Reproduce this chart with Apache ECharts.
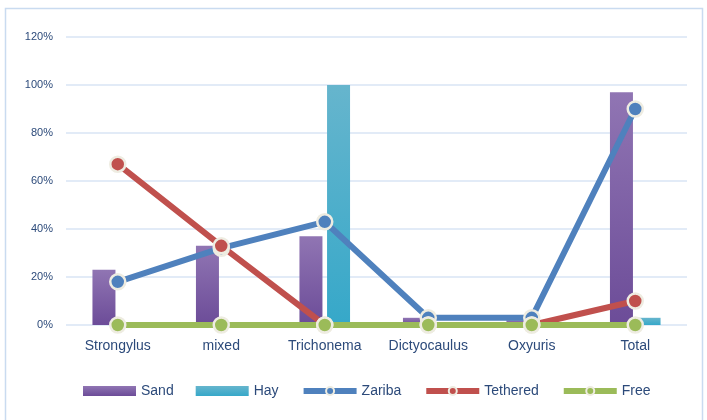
<!DOCTYPE html>
<html><head><meta charset="utf-8">
<script src="https://cdn.jsdelivr.net/npm/echarts@6/dist/echarts.min.js"></script>
<style>html,body{margin:0;padding:0;background:#fff}#c{width:707px;height:420px}</style>
</head><body><div id="c"></div>
<script>
var categories = ['Strongylus','mixed','Trichonema','Dictyocaulus','Oxyuris','Total'];
var sand = [23, 33, 37, 3, 2, 97];
var hay = [0, 0, 100, 0, 0, 3];
var zariba = [18, 32, 43, 3, 3, 90];
var tethered = [67, 33, 0, 0, 0, 10];
var free = [0, 0, 0, 0, 0, 0];
var yTicks = {min: 0, max: 120, interval: 20};

var font = 'Liberation Sans';
var txt = '#2c4a7a';
function grad(a, b){ return new echarts.graphic.LinearGradient(0,0,0,1,[{offset:0,color:a},{offset:1,color:b}]); }
function lineSeries(name, data, color){
  return {name:name, type:'line', data:data, symbol:'circle', symbolSize:15, z:3,
    lineStyle:{color:color, width:6}, itemStyle:{color:color, borderColor:'#eeece1', borderWidth:2.5},
    emphasis:{disabled:true}};
}
var chart = echarts.init(document.getElementById('c'));
chart.setOption({
  animation:false,
  textStyle:{fontFamily:font},
  graphic:[{type:'rect', shape:{x:5.5,y:8.5,width:697,height:420}, style:{fill:'none', stroke:'#c9dbf0', lineWidth:1.5}, silent:true}],
  grid:{left:66, right:20, top:37, bottom:95},
  legend:{bottom:17, left:78, itemGap:22, itemWidth:53, itemHeight:10,
    lineStyle:{width:6},
    textStyle:{color:txt, fontSize:14, fontFamily:font},
    data:[{name:'Sand', icon:'rect'},{name:'Hay', icon:'rect'},'Zariba','Tethered','Free']},
  xAxis:{type:'category', data:categories, axisTick:{show:false}, axisLine:{show:false},
    axisLabel:{color:txt, fontSize:14, margin:14, interval:0}},
  yAxis:{type:'value', min:yTicks.min, max:yTicks.max, interval:yTicks.interval,
    axisLabel:{color:txt, fontSize:11, formatter:'{value}%', margin:13},
    axisLine:{show:false}, axisTick:{show:false},
    splitLine:{lineStyle:{color:'#d8e4f4', width:1.5}}},
  series:[
    {name:'Sand', type:'bar', data:sand, barWidth:23, barGap:'20%', z:1,
      itemStyle:{color:grad('#9075b3','#6c4c98')}},
    {name:'Hay', type:'bar', data:hay, barWidth:23, z:1,
      itemStyle:{color:grad('#66b5cd','#36a8c9')}},
    lineSeries('Zariba', zariba, '#4f81bd'),
    lineSeries('Tethered', tethered, '#c0504d'),
    lineSeries('Free', free, '#9bbb59')
  ]
});
</script></body></html>
